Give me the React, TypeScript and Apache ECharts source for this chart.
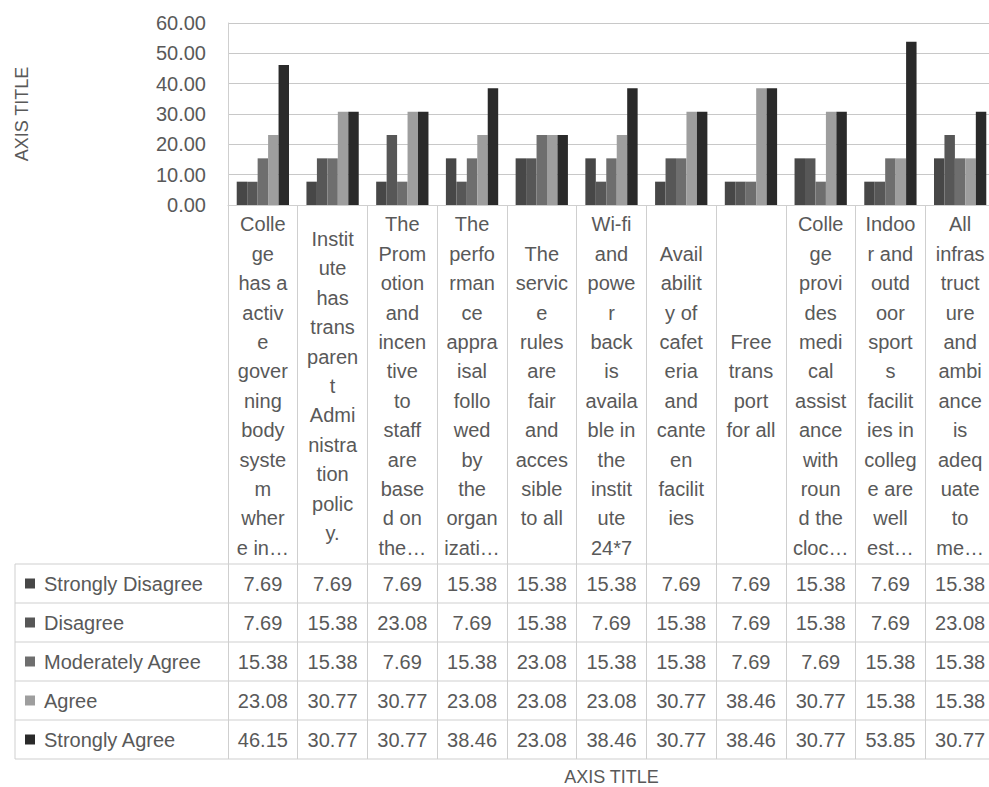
import React, { useEffect, useRef } from "react";
import * as echarts from "echarts";

const categories: string[] = [
  "Colle\nge\nhas a\nactiv\ne\ngover\nning\nbody\nsyste\nm\nwher\ne in…",
  "Instit\nute\nhas\ntrans\nparen\nt\nAdmi\nnistra\ntion\npolic\ny.",
  "The\nProm\notion\nand\nincen\ntive\nto\nstaff\nare\nbase\nd on\nthe…",
  "The\nperfo\nrman\nce\nappra\nisal\nfollo\nwed\nby\nthe\norgan\nizati…",
  "The\nservic\ne\nrules\nare\nfair\nand\nacces\nsible\nto all",
  "Wi-fi\nand\npowe\nr\nback\nis\navaila\nble in\nthe\ninstit\nute\n24*7",
  "Avail\nabilit\ny of\ncafet\neria\nand\ncante\nen\nfacilit\nies",
  "Free\ntrans\nport\nfor all",
  "Colle\nge\nprovi\ndes\nmedi\ncal\nassist\nance\nwith\nroun\nd the\ncloc…",
  "Indoo\nr and\noutd\noor\nsport\ns\nfacilit\nies in\ncolleg\ne are\nwell\nest…",
  "All\ninfras\ntruct\nure\nand\nambi\nance\nis\nadeq\nuate\nto\nme…",
];

const seriesNames: string[] = [
  "Strongly Disagree",
  "Disagree",
  "Moderately Agree",
  "Agree",
  "Strongly Agree",
];

const stronglyDisagree = [7.69, 7.69, 7.69, 15.38, 15.38, 15.38, 7.69, 7.69, 15.38, 7.69, 15.38];
const disagree = [7.69, 15.38, 23.08, 7.69, 15.38, 7.69, 15.38, 7.69, 15.38, 7.69, 23.08];
const moderatelyAgree = [15.38, 15.38, 7.69, 15.38, 23.08, 15.38, 15.38, 7.69, 7.69, 15.38, 15.38];
const agree = [23.08, 30.77, 30.77, 23.08, 23.08, 23.08, 30.77, 38.46, 30.77, 15.38, 15.38];
const stronglyAgree = [46.15, 30.77, 30.77, 38.46, 23.08, 38.46, 30.77, 38.46, 30.77, 53.85, 30.77];

const seriesValues = [stronglyDisagree, disagree, moderatelyAgree, agree, stronglyAgree];

const yTicks = [0, 10, 20, 30, 40, 50, 60];

const colors = ["#474747", "#575757", "#6e6e6e", "#9e9e9e", "#2a2a2a"];

const FONT = "Liberation Sans";
const TXT = "#595959";
const LINE = "#cfcfcf";

const W = 1000;
const H = 787;
const GRID_LEFT = 228;
const GRID_RIGHT_EDGE = 995;
const GRID_TOP = 23;
const AXIS_Y = 205;
const TABLE_TOP = 564;
const ROW_H = 39;
const TABLE_LEFT = 15;

export default function App() {
  const ref = useRef<HTMLDivElement>(null);

  useEffect(() => {
    if (!ref.current) return;
    const chart = echarts.init(ref.current, undefined, { renderer: "svg" });

    const rowAxes = seriesValues.map((vals, i) => ({
      type: "category",
      gridIndex: 0,
      position: "bottom",
      data: vals.map((v) => v.toFixed(2)),
      axisLine: { show: false },
      axisTick: { show: false },
      splitLine: { show: false },
      axisLabel: {
        interval: 0,
        margin: TABLE_TOP + i * ROW_H + ROW_H / 2 - AXIS_Y,
        verticalAlign: "middle",
        fontSize: 20,
        color: TXT,
        fontFamily: FONT,
      },
    }));

    const graphic: any[] = [];
    for (let i = 0; i <= seriesNames.length; i++) {
      const y = TABLE_TOP + i * ROW_H;
      graphic.push({
        type: "line",
        shape: { x1: TABLE_LEFT, y1: y, x2: W, y2: y },
        style: { stroke: LINE, lineWidth: 1 },
        silent: true,
      });
    }
    graphic.push({
      type: "line",
      shape: { x1: TABLE_LEFT, y1: TABLE_TOP, x2: TABLE_LEFT, y2: TABLE_TOP + seriesNames.length * ROW_H },
      style: { stroke: LINE, lineWidth: 1 },
      silent: true,
    });

    const option: any = {
      animation: false,
      backgroundColor: "#ffffff",
      textStyle: { fontFamily: FONT },
      grid: {
        left: GRID_LEFT,
        right: W - GRID_RIGHT_EDGE,
        top: GRID_TOP,
        bottom: H - AXIS_Y,
        containLabel: false,
      },
      legend: {
        data: seriesNames,
        orient: "vertical",
        left: 25,
        top: TABLE_TOP + ROW_H / 2 - 10,
        padding: 0,
        itemWidth: 10,
        itemHeight: 10,
        itemGap: ROW_H - 20,
        icon: "rect",
        selectedMode: false,
        textStyle: {
          fontSize: 20,
          lineHeight: 20,
          color: TXT,
          fontFamily: FONT,
          padding: [0, 0, 0, 4],
        },
      },
      xAxis: [
        {
          type: "category",
          gridIndex: 0,
          position: "bottom",
          data: categories,
          name: "AXIS TITLE",
          nameLocation: "middle",
          nameGap: 777 - AXIS_Y,
          nameTextStyle: { fontSize: 18, color: TXT, fontFamily: FONT, verticalAlign: "middle" },
          axisLine: { show: true, lineStyle: { color: LINE } },
          axisTick: {
            show: true,
            interval: 0,
            alignWithLabel: false,
            length: TABLE_TOP + seriesNames.length * ROW_H - AXIS_Y,
            lineStyle: { color: LINE },
          },
          axisLabel: {
            interval: 0,
            margin: 386 - AXIS_Y,
            verticalAlign: "middle",
            align: "center",
            fontSize: 20,
            lineHeight: 29.4,
            color: TXT,
            fontFamily: FONT,
          },
          splitLine: { show: false },
        },
        ...rowAxes,
      ],
      yAxis: {
        type: "value",
        min: yTicks[0],
        max: yTicks[yTicks.length - 1],
        interval: yTicks[1] - yTicks[0],
        name: "AXIS TITLE",
        nameLocation: "middle",
        nameRotate: 90,
        nameGap: GRID_LEFT - 22,
        nameTextStyle: { fontSize: 18, color: TXT, fontFamily: FONT, verticalAlign: "middle" },
        axisLine: { show: true, lineStyle: { color: LINE } },
        axisTick: { show: false },
        splitLine: { show: true, lineStyle: { color: "#c8c8c8" } },
        axisLabel: {
          margin: 22,
          fontSize: 20,
          color: TXT,
          fontFamily: FONT,
          formatter: (v: number) => v.toFixed(2),
        },
      },
      series: seriesNames.map((n, i) => ({
        type: "bar",
        name: n,
        xAxisIndex: 0,
        yAxisIndex: 0,
        data: seriesValues[i],
        barGap: "0%",
        barCategoryGap: "25%",
        itemStyle: { color: colors[i] },
      })),
      graphic,
    };

    chart.setOption(option);
    return () => chart.dispose();
  }, []);

  return (
    <div
      style={{
        position: "absolute",
        left: 0,
        top: 0,
        width: 989,
        height: H,
        overflow: "hidden",
        background: "#ffffff",
      }}
    >
      <div ref={ref} style={{ width: W, height: H }} />
    </div>
  );
}
